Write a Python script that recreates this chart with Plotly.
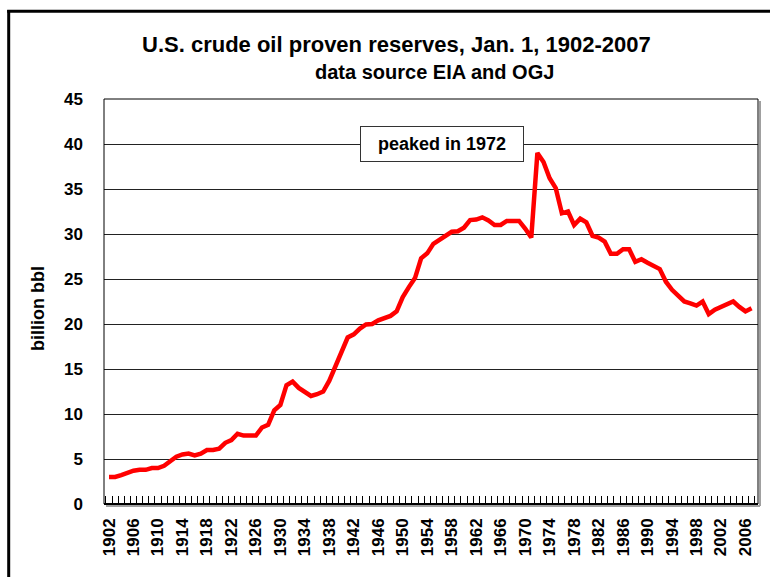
import plotly.graph_objects as go

years = list(range(1902, 2008))
reserves = [
    3.0, 3.0, 3.2, 3.5, 3.7, 3.8, 3.8, 4.0, 4.0, 4.25,
    4.7, 5.25, 5.5, 5.6, 5.4, 5.6, 6.0, 6.0, 6.15, 6.8,
    7.1, 7.8, 7.6, 7.6, 7.6, 8.5, 8.8, 10.4, 11.0, 13.2,
    13.6, 12.9, 12.5, 12.0, 12.2, 12.5, 13.7, 15.4, 17.1, 18.5,
    18.85, 19.5, 19.95, 20.0, 20.4, 20.7, 20.9, 21.4, 23.0, 24.1,
    25.1, 27.3, 27.85, 28.9, 29.4, 29.8, 30.25, 30.3, 30.7, 31.55,
    31.6, 31.85, 31.5, 31.0, 31.0, 31.45, 31.45, 31.45, 30.6, 29.6,
    39.0, 38.0, 36.2, 35.1, 32.3, 32.5, 31.0, 31.7, 31.3, 29.8,
    29.6, 29.15, 27.8, 27.8, 28.3, 28.3, 26.9, 27.2, 26.8, 26.4,
    26.1, 24.7, 23.8, 23.15, 22.5, 22.3, 22.05, 22.5, 21.1, 21.6,
    21.9, 22.2, 22.5, 21.9, 21.4, 21.75,
]
label_years = list(range(1902, 2007, 4))
y_ticks = list(range(0, 46, 5))

title_text = "U.S. crude oil proven reserves, Jan. 1, 1902-2007"
subtitle_text = "data source EIA and OGJ"
y_title = "billion bbl"
note_text = "peaked in 1972"

W, H = 770, 577
L, R, T, B = 104, 12, 99, 73
PW, PH = W - L - R, H - T - B


def px(x):
    return (x - L) / PW


def py(y):
    return (H - B - y) / PH


FONT = "Liberation Sans, Arial, sans-serif"

fig = go.Figure()
fig.add_trace(go.Scatter(
    x=years, y=reserves, mode="lines",
    line=dict(color="#ff0000", width=4.5),
    showlegend=False, hoverinfo="skip",
))

fig.update_layout(
    width=W, height=H,
    margin=dict(l=L, r=R, t=T, b=B),
    paper_bgcolor="white", plot_bgcolor="white",
    font=dict(family=FONT, color="black", weight="bold"),
    xaxis=dict(
        range=[1901.18, 2008.05],
        tickmode="array", tickvals=label_years,
        ticktext=[str(y) for y in label_years],
        tickangle=-90, ticks="", showgrid=False, zeroline=False,
        tickfont=dict(size=17, family=FONT, weight="bold"),
        ticklabelstandoff=10,
        minor=dict(ticks="inside", ticklen=8, tickcolor="black",
                   tickwidth=1, tick0=1901.5, dtick=1, showgrid=False),
        showline=False,
    ),
    yaxis=dict(
        range=[0, 45], tickmode="array", tickvals=y_ticks,
        showgrid=True, gridcolor="#222", gridwidth=1,
        zeroline=False, ticks="", showline=False,
        tickfont=dict(size=17, family=FONT, weight="bold"),
        ticklabelstandoff=20,
    ),
)

shapes = [
    # outer frame: only the left and top edges are visible on the page
    dict(type="line", xref="paper", yref="paper",
         x0=px(8.7), x1=px(8.7), y0=py(577), y1=py(10),
         line=dict(color="black", width=3), layer="above"),
    dict(type="line", xref="paper", yref="paper",
         x0=px(7.2), x1=px(770), y0=py(11.3), y1=py(11.3),
         line=dict(color="black", width=3), layer="above"),
    # plot area border
    dict(type="rect", xref="paper", yref="paper", x0=0, x1=1, y0=0, y1=1,
         line=dict(color="black", width=1), fillcolor="rgba(0,0,0,0)", layer="above"),
    # shadows
    dict(type="line", xref="paper", yref="paper", x0=px(106), x1=px(760), y0=py(506), y1=py(506),
         line=dict(color="#a0a0a0", width=2), layer="above"),
    dict(type="line", xref="paper", yref="paper", x0=px(760), x1=px(760), y0=py(506), y1=py(101),
         line=dict(color="#a0a0a0", width=2), layer="above"),
    # bottom axis
    dict(type="line", xref="paper", yref="paper", x0=0, x1=1, y0=0, y1=0,
         line=dict(color="black", width=2), layer="above"),
]
fig.update_layout(shapes=shapes)

annotations = [
    dict(text=title_text, xref="paper", yref="paper", x=px(396), y=py(44),
         xanchor="center", yanchor="middle", showarrow=False,
         font=dict(size=22, family=FONT, weight="bold")),
    dict(text=subtitle_text, xref="paper", yref="paper", x=px(434), y=py(72),
         xanchor="center", yanchor="middle", showarrow=False,
         font=dict(size=20, family=FONT, weight="bold")),
    dict(text=y_title, xref="paper", yref="paper", x=px(38), y=py(309),
         xanchor="center", yanchor="middle", textangle=-90, showarrow=False,
         font=dict(size=18, family=FONT, weight="bold")),
    dict(text=note_text, xref="paper", yref="paper", x=px(442), y=py(144),
         xanchor="center", yanchor="middle", showarrow=False,
         width=158, height=30, borderpad=2, borderwidth=1,
         bordercolor="#333", bgcolor="white",
         font=dict(size=18, family=FONT, weight="bold")),
]
fig.update_layout(annotations=annotations)

fig.write_html(
    "out.html",
    config={"displayModeBar": False},
    post_script="document.body.style.margin='0';document.body.style.overflow='hidden';",
)
